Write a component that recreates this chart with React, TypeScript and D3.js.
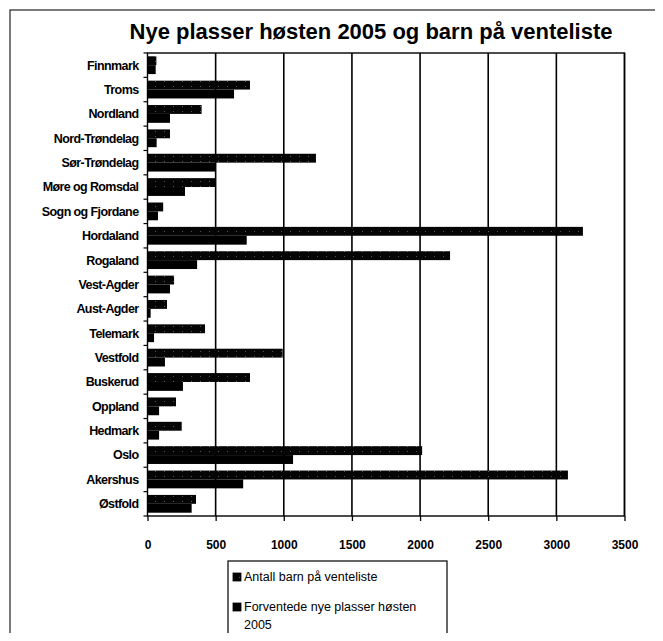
import { useEffect, useRef } from "react"
import * as d3 from "d3"

// fylker, top to bottom as in the chart
const counties = [
  "Finnmark", "Troms", "Nordland", "Nord-Trøndelag", "Sør-Trøndelag",
  "Møre og Romsdal", "Sogn og Fjordane", "Hordaland", "Rogaland", "Vest-Agder",
  "Aust-Agder", "Telemark", "Vestfold", "Buskerud", "Oppland", "Hedmark",
  "Oslo", "Akershus", "Østfold",
]
// Antall barn på venteliste
const waiting = [65, 752, 397, 165, 1236, 500, 115, 3195, 2220, 195, 143, 422, 992, 752, 209, 251, 2015, 3085, 356]
// Forventede nye plasser høsten 2005
const newPlaces = [60, 635, 165, 67, 500, 275, 77, 728, 364, 165, 23, 48, 128, 260, 85, 85, 1068, 702, 324]
const xTicks = [0, 500, 1000, 1500, 2000, 2500, 3000, 3500]
const seriesNames = ["Antall barn på venteliste", "Forventede nye plasser høsten 2005"]

const W = 663
const H = 641
const FONT = "Liberation Sans, Arial, sans-serif"

export default function App() {
  const ref = useRef<SVGSVGElement>(null)

  useEffect(() => {
    const svg = d3.select(ref.current)
    svg.selectAll("*").remove()

    const marginLeft = 147.5, plotRight = 624.5, plotTop = 53, plotBottom = 516

    const x = d3.scaleLinear().domain([0, 3500]).range([marginLeft, plotRight])
    const y = d3.scaleBand().domain(counties).range([plotTop, plotBottom]).paddingInner(0.27).paddingOuter(0.135)
    const sub = d3.scaleBand().domain(["a", "b"]).range([0, y.bandwidth()])

    // speckled pattern for the waiting list bars
    const defs = svg.append("defs")
    const pat = defs.append("pattern")
      .attr("id", "dots").attr("width", 9).attr("height", 5)
      .attr("patternUnits", "userSpaceOnUse")
    pat.append("rect").attr("width", 9).attr("height", 5).attr("fill", "#050505")
    pat.append("rect").attr("x", 2).attr("y", 1).attr("width", 1).attr("height", 1).attr("fill", "#555")

    // outer frame
    svg.append("rect")
      .attr("x", 10).attr("y", 10).attr("width", 660).attr("height", 640)
      .attr("fill", "white").attr("stroke", "#222").attr("stroke-width", 1.2)

    // title
    svg.append("text")
      .attr("x", 371).attr("y", 39)
      .attr("text-anchor", "middle")
      .attr("font-family", FONT)
      .attr("font-weight", "bold").attr("font-size", 22)
      .text("Nye plasser høsten 2005 og barn på venteliste")

    // gridlines
    svg.append("g")
      .selectAll("line")
      .data(xTicks.slice(1))
      .join("line")
        .attr("x1", d => x(d)).attr("x2", d => x(d))
        .attr("y1", plotTop).attr("y2", plotBottom)
        .attr("stroke", "#000").attr("stroke-width", 1.6)

    // plot border
    svg.append("rect")
      .attr("x", marginLeft).attr("y", plotTop)
      .attr("width", plotRight - marginLeft).attr("height", plotBottom - plotTop)
      .attr("fill", "none").attr("stroke", "#000").attr("stroke-width", 1.4)

    // bars - waiting list (upper)
    svg.append("g")
      .selectAll("rect")
      .data(counties)
      .join("rect")
        .attr("x", x(0))
        .attr("y", d => (y(d) as number) + (sub("a") as number))
        .attr("width", (_, i) => x(waiting[i]) - x(0))
        .attr("height", sub.bandwidth())
        .attr("fill", "url(#dots)")

    // bars - new places (lower)
    svg.append("g")
      .selectAll("rect")
      .data(counties)
      .join("rect")
        .attr("x", x(0))
        .attr("y", d => (y(d) as number) + (sub("b") as number))
        .attr("width", (_, i) => x(newPlaces[i]) - x(0))
        .attr("height", sub.bandwidth())
        .attr("fill", "#000")

    // x axis
    svg.append("g")
        .attr("transform", `translate(0,${plotBottom})`)
      .call(d3.axisBottom(x).tickValues(xTicks).tickSize(5).tickPadding(19).tickFormat(d3.format("d")))
      .call(g => g.select(".domain").remove())
      .call(g => g.selectAll("line").attr("stroke", "#000").attr("stroke-width", 1.3))
      .call(g => g.selectAll("text")
        .attr("font-family", FONT)
        .attr("font-weight", "bold").attr("font-size", 12).attr("fill", "#000"))

    // y axis tick marks between categories
    const step = y.step()
    svg.append("g")
      .selectAll("line")
      .data(d3.range(counties.length + 1))
      .join("line")
        .attr("x1", marginLeft - 4).attr("x2", marginLeft)
        .attr("y1", i => plotTop + i * step).attr("y2", i => plotTop + i * step)
        .attr("stroke", "#000").attr("stroke-width", 1.2)

    // category labels
    svg.append("g")
        .attr("text-anchor", "end")
        .attr("font-family", FONT)
        .attr("font-weight", "bold").attr("font-size", 12.5)
        .attr("letter-spacing", -0.6)
      .selectAll("text")
      .data(counties)
      .join("text")
        .attr("x", marginLeft - 9)
        .attr("y", d => (y(d) as number) + y.bandwidth() / 2)
        .attr("dy", "0.35em")
        .text(d => d)

    // legend
    const lg = svg.append("g").attr("transform", "translate(228,561)")
    lg.append("rect")
      .attr("width", 219).attr("height", 76)
      .attr("fill", "white").attr("stroke", "#000").attr("stroke-width", 1.2)
    const fills = ["url(#dots)", "#000"]
    const rows = [16, 46]
    lg.selectAll("rect.key")
      .data(seriesNames)
      .join("rect")
        .attr("class", "key")
        .attr("x", 5).attr("y", (_, i) => rows[i] - 4)
        .attr("width", 8).attr("height", 8)
        .attr("fill", (_, i) => fills[i])
        .attr("stroke", "#000").attr("stroke-width", 0.8)
    const txt = lg.append("g")
      .attr("font-family", FONT)
      .attr("font-size", 12.5)
    txt.append("text").attr("x", 16).attr("y", rows[0]).attr("dy", "0.35em").text(seriesNames[0])
    txt.append("text").attr("x", 16).attr("y", rows[1]).attr("dy", "0.35em").text("Forventede nye plasser høsten")
    txt.append("text").attr("x", 16).attr("y", rows[1] + 18).attr("dy", "0.35em").text("2005")
  }, [])

  return (
    <div style={{ margin: -8 }}>
      <svg ref={ref} width={W} height={H} viewBox={`0 0 ${W} ${H}`} style={{ display: "block" }} />
    </div>
  )
}
